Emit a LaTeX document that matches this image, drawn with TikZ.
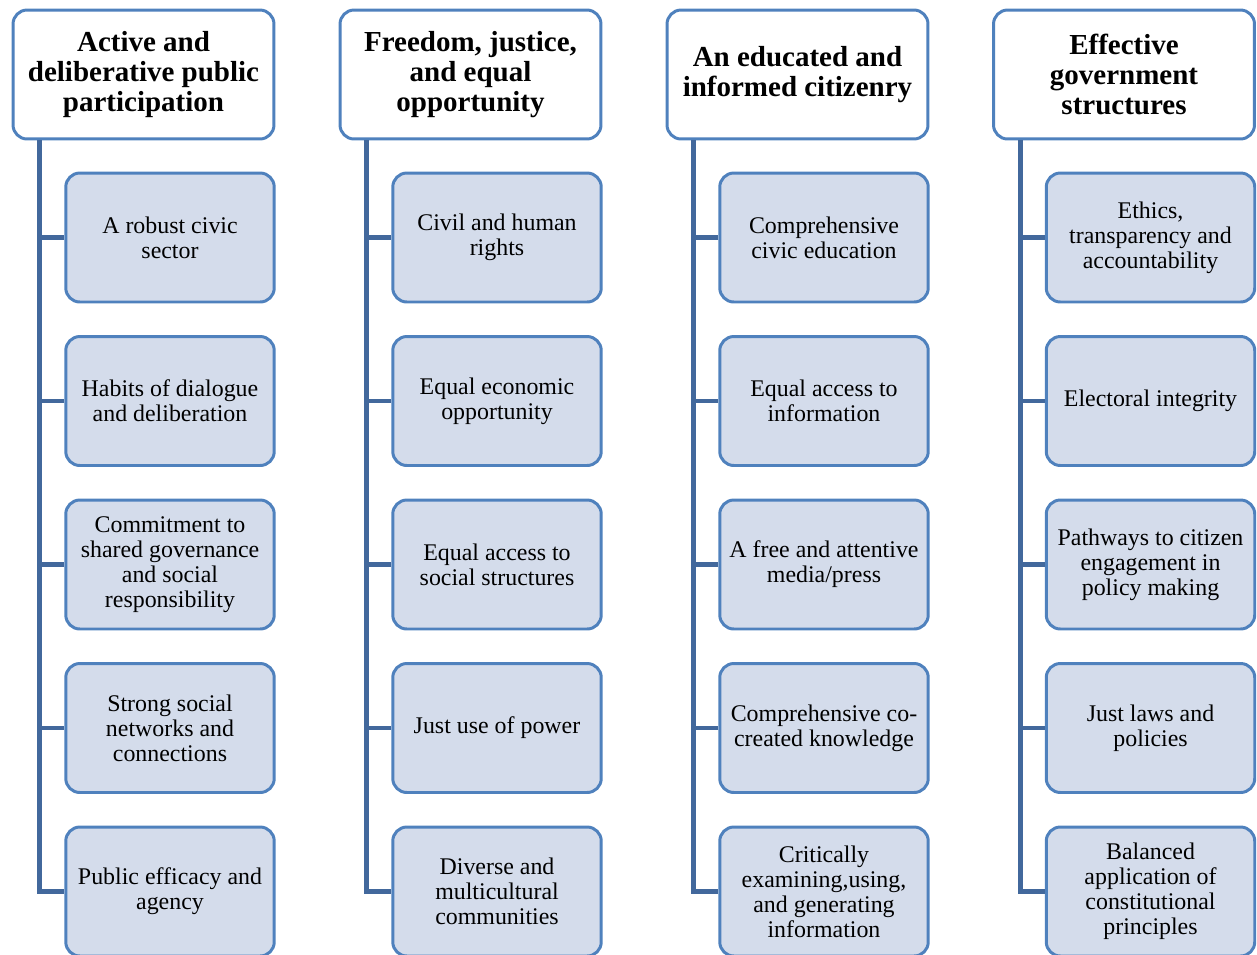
\documentclass[tikz,border=0pt]{standalone}
\usepackage{fontspec}
\setmainfont{Liberation Serif}
\usetikzlibrary{positioning}

\definecolor{boxline}{RGB}{79,129,189}
\definecolor{trunkline}{RGB}{66,104,156}
\definecolor{boxfill}{RGB}{212,220,235}

\tikzset{
  head/.style={draw=boxline,line width=1.7pt,fill=white,rounded corners=8pt,
    minimum width=5.22cm,minimum height=2.58cm,align=center,inner sep=1pt,
    font=\fontsize{16.5}{17.2}\selectfont\bfseries},
  item/.style={draw=boxline,line width=1.7pt,fill=boxfill,rounded corners=8pt,
    minimum width=4.17cm,minimum height=2.58cm,align=center,inner sep=1pt,
    font=\fontsize{13.6}{14.2}\selectfont},
  trunk/.style={draw=trunkline,line width=2.8pt}
}

\begin{document}
\begin{tikzpicture}[x=0.02cm,y=-0.02cm]
\useasboundingbox (0,0) rectangle (1257,954);

% column 1
\node[head] (h1) at (143.5,74.5) {Active and\\deliberative public\\participation};
\node[item] (a1) at (170,237.5) {A robust civic\\sector};
\node[item] (a2) at (170,401) {Habits of dialogue\\and deliberation};
\node[item] (a3) at (170,564.5) {Commitment to\\shared governance\\and social\\responsibility};
\node[item] (a4) at (170,728) {Strong social\\networks and\\connections};
\node[item] (a5) at (170,891.5) {Public efficacy and\\agency};

% column 2
\node[head] (h2) at (470.5,74.5) {Freedom, justice,\\and equal\\opportunity};
\node[item] (b1) at (497,237.5) {Civil and human\\rights};
\node[item] (b2) at (497,401) {Equal economic\\opportunity};
\node[item] (b3) at (497,564.5) {Equal access to\\social structures};
\node[item] (b4) at (497,728) {Just use of power};
\node[item] (b5) at (497,891.5) {Diverse and\\multicultural\\communities};

% column 3
\node[head] (h3) at (797.5,74.5) {An educated and\\informed citizenry};
\node[item] (c1) at (824,237.5) {Comprehensive\\civic education};
\node[item] (c2) at (824,401) {Equal access to\\information};
\node[item] (c3) at (824,564.5) {A free and attentive\\media/press};
\node[item] (c4) at (824,728) {Comprehensive co-\\created knowledge};
\node[item] (c5) at (824,891.5) {Critically\\examining,using,\\and generating\\information};

% column 4
\node[head] (h4) at (1124,74.5) {Effective\\government\\structures};
\node[item] (d1) at (1150.5,237.5) {Ethics,\\transparency and\\accountability};
\node[item] (d2) at (1150.5,401) {Electoral integrity};
\node[item] (d3) at (1150.5,564.5) {Pathways to citizen\\engagement in\\policy making};
\node[item] (d4) at (1150.5,728) {Just laws and\\policies};
\node[item] (d5) at (1150.5,891.5) {Balanced\\application of\\constitutional\\principles};

% trunks and branches
\foreach \col/\h in {a/h1,b/h2,c/h3,d/h4}{
  \coordinate (t\col) at ([xshift=0.56cm]\h.south west);
  \draw[trunk] (t\col) |- (\col5.west);
  \foreach \k in {1,...,4}
    \draw[trunk] (\col\k.west) -- (\col\k.west -| t\col);
}

\end{tikzpicture}
\end{document}
